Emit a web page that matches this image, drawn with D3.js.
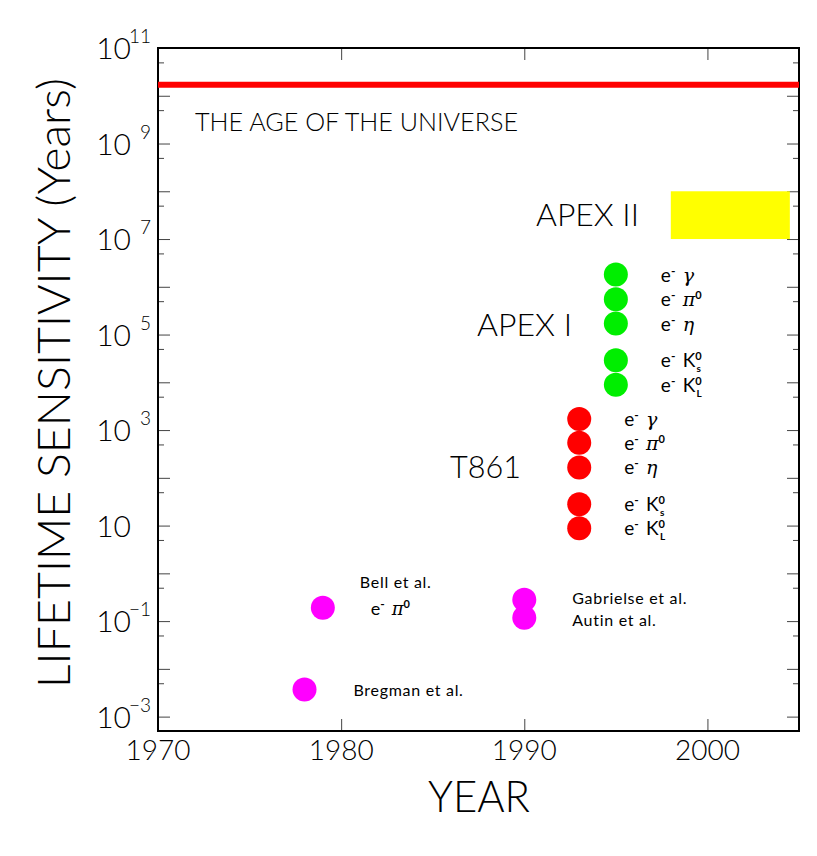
<!DOCTYPE html>
<html>
<head>
<meta charset="utf-8">
<script src="https://cdn.jsdelivr.net/npm/d3@7"></script>
<style>
  body { margin: 0; background: #fff; }
  text { font-family: Lato, "DejaVu Sans", sans-serif; font-weight: 300; fill: #000; }
  .small { font-weight: 400; }
</style>
</head>
<body>
<script>
// chart values
const xTickYears = [1970, 1980, 1990, 2000];
const yLabelExps = [11, 9, 7, 5, 3, 1, -1, -3];
const ageOfUniverse = 1.7e10;
const apex2Years = [1998, 2004.5];
const apex2Range = [1e7, 1e8];
const decayModes = ["gamma", "pi0", "eta", "K0S", "K0L"];
const apex1Year = 1995;
const apex1Values = [1.8e6, 5.5e5, 1.7e5, 2.9e4, 8.9e3];
const t861Year = 1993;
const t861Values = [1.7e3, 540, 165, 28, 8.8];
const pastNames = ["Bell et al.", "Gabrielse et al.", "Autin et al.", "Bregman et al."];
const pastYears = [1979, 1990, 1990, 1978];
const pastValues = [0.19, 0.28, 0.117, 3.7e-3];

const W = 817, H = 856;
const svg = d3.select("body").append("svg").attr("width", W).attr("height", H);

const x = d3.scaleLinear().domain([1970, 2005]).range([158, 799]);
const y = d3.scaleLog().domain([5e-4, 1e11]).range([731, 48]);

const majors = d3.range(-3, 12).map(e => Math.pow(10, e));
const minors = d3.range(-4, 11).map(e => 5 * Math.pow(10, e));

// ticks (inward on all four sides)
function tickAxis(axis, tr) {
  const g = svg.append("g").attr("transform", tr).call(axis);
  g.select(".domain").remove();
  g.selectAll("line").attr("stroke", "#444").attr("stroke-width", 1);
  g.selectAll("text").remove();
  return g;
}
tickAxis(d3.axisLeft(y).tickValues(majors).tickSize(-12), "translate(158,0)");
tickAxis(d3.axisLeft(y).tickValues(minors).tickSize(-6), "translate(158,0)");
tickAxis(d3.axisRight(y).tickValues(majors).tickSize(-12), "translate(799,0)");
tickAxis(d3.axisRight(y).tickValues(minors).tickSize(-6), "translate(799,0)");
tickAxis(d3.axisBottom(x).tickValues([1980, 1990, 2000]).tickSize(-12), "translate(0,731)");
tickAxis(d3.axisTop(x).tickValues([1980, 1990, 2000]).tickSize(-12), "translate(0,48)");

// x labels
svg.append("g").selectAll("text").data(xTickYears).join("text")
  .attr("x", d => x(d)).attr("y", 760)
  .attr("text-anchor", "middle").attr("font-size", 28)
  .text(d => d);

// y labels 10^n
const yl = svg.append("g").selectAll("g").data(yLabelExps).join("g");
yl.append("text")
  .attr("x", 131).attr("y", d => y(Math.pow(10, d)) + 11)
  .attr("text-anchor", "end").attr("font-size", 30).text("10");
yl.filter(d => d !== 1).append("text")
  .attr("x", 151).attr("y", d => y(Math.pow(10, d)) - 5)
  .attr("text-anchor", "end").attr("font-size", 19)
  .text(d => d < 0 ? "\u2212" + (-d) : d);

// frame
svg.append("rect")
  .attr("x", x(1970)).attr("y", y(1e11))
  .attr("width", x(2005) - x(1970)).attr("height", y(5e-4) - y(1e11))
  .attr("fill", "none").attr("stroke", "#000").attr("stroke-width", 2);

// age of the universe
svg.append("line")
  .attr("x1", x(1970)).attr("x2", x(2005))
  .attr("y1", y(ageOfUniverse)).attr("y2", y(ageOfUniverse))
  .attr("stroke", "#ff0000").attr("stroke-width", 6);
svg.append("text").attr("x", 195).attr("y", 131).attr("font-size", 26)
  .attr("textLength", 323).attr("lengthAdjust", "spacingAndGlyphs")
  .text("THE AGE OF THE UNIVERSE");

// APEX II band
svg.append("rect")
  .attr("x", x(apex2Years[0])).attr("y", y(apex2Range[1]))
  .attr("width", x(apex2Years[1]) - x(apex2Years[0]))
  .attr("height", y(apex2Range[0]) - y(apex2Range[1]))
  .attr("fill", "#ffff00");

// group labels
svg.append("text").attr("x", 536).attr("y", 226).attr("font-size", 32)
  .attr("textLength", 103).attr("lengthAdjust", "spacingAndGlyphs").text("APEX II");
svg.append("text").attr("x", 477).attr("y", 336).attr("font-size", 32)
  .attr("textLength", 95).attr("lengthAdjust", "spacingAndGlyphs").text("APEX I");
svg.append("text").attr("x", 450).attr("y", 478).attr("font-size", 32)
  .attr("textLength", 71).attr("lengthAdjust", "spacingAndGlyphs").text("T861");

// decay mode label builder
function modeLabel(t, mode) {
  t.classed("small", true);
  t.append("tspan").text("e");
  t.append("tspan").attr("dy", -7).attr("font-size", 12).attr("font-weight", 700).text("-");
  t.append("tspan").attr("dy", 7).text("\u2009 ");
  const greek = { gamma: "\u03b3", eta: "\u03b7", pi0: "\u03c0" };
  if (greek[mode]) {
    t.append("tspan").attr("font-family", "DejaVu Serif").attr("font-style", "italic")
      .attr("font-weight", 400).text(greek[mode]);
  } else {
    t.append("tspan").text("K");
  }
  if (mode === "pi0" || mode.startsWith("K")) {
    t.append("tspan").attr("dy", -7).attr("font-size", 11).attr("font-weight", 700).text("0");
  }
  if (mode.startsWith("K")) {
    t.append("tspan").attr("dx", -5).attr("dy", 12).attr("font-size", 10).attr("font-weight", 700)
      .text(mode === "K0S" ? "s" : "L");
  }
}

function expGroup(year, values, color) {
  const g = svg.append("g");
  g.selectAll("circle").data(values).join("circle")
    .attr("cx", x(year)).attr("cy", d => y(d)).attr("r", 12).attr("fill", color);
  g.selectAll("text").data(values).join("text")
    .attr("x", x(year) + 45).attr("y", d => y(d) + 7).attr("font-size", 19)
    .each(function (d, i) { modeLabel(d3.select(this), decayModes[i]); });
}
expGroup(apex1Year, apex1Values, "#00ee00");
expGroup(t861Year, t861Values, "#ff0000");

// earlier experiments
svg.append("g").selectAll("circle").data(pastValues).join("circle")
  .attr("cx", (d, i) => x(pastYears[i])).attr("cy", d => y(d)).attr("r", 12).attr("fill", "#ff00ff");

const pastLabelDx = [37, 48, 48, 49];
const pastLabelDy = [-20, 4, 8, 7];
svg.append("g").selectAll("text").data(pastNames).join("text")
  .attr("class", "small")
  .attr("x", (d, i) => x(pastYears[i]) + pastLabelDx[i])
  .attr("y", (d, i) => y(pastValues[i]) + pastLabelDy[i])
  .attr("font-size", 16).attr("letter-spacing", 0.7).text(d => d);
const bell = svg.append("text").attr("x", x(pastYears[0]) + 48).attr("y", y(pastValues[0]) + 7)
  .attr("font-size", 18);
modeLabel(bell, "pi0");

// axis titles
svg.append("text").attr("x", 479).attr("y", 812).attr("text-anchor", "middle")
  .attr("font-size", 44).attr("textLength", 102).attr("lengthAdjust", "spacingAndGlyphs").text("YEAR");
svg.append("text").attr("transform", "translate(70,383) rotate(-90)")
  .attr("text-anchor", "middle").attr("font-size", 46)
  .attr("textLength", 610).attr("lengthAdjust", "spacingAndGlyphs")
  .text("LIFETIME SENSITIVITY (Years)");
</script>
</body>
</html>
